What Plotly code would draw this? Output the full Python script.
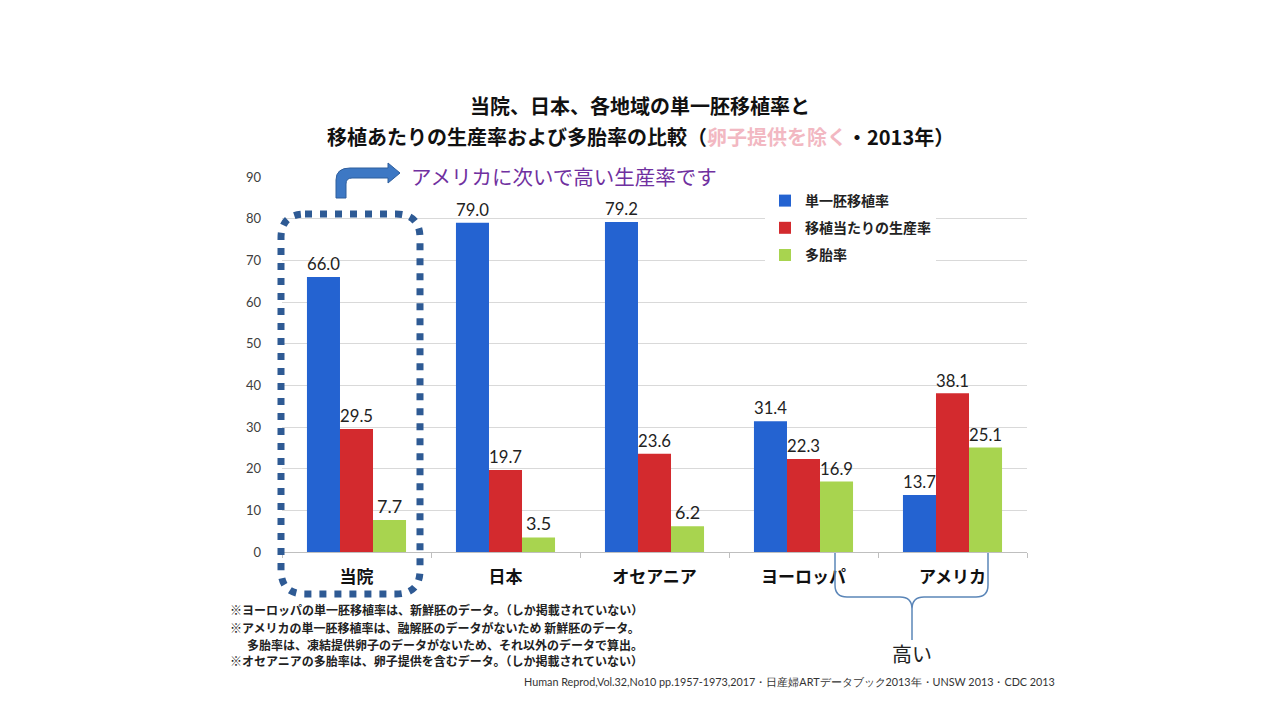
import plotly.graph_objects as go

categories = ["当院", "日本", "オセアニア", "ヨーロッパ", "アメリカ"]
set_rate = [66.0, 79.0, 79.2, 31.4, 13.7]
live_birth = [29.5, 19.7, 23.6, 22.3, 38.1]
multiple = [7.7, 3.5, 6.2, 16.9, 25.1]
series_names = ["単一胚移植率", "移植当たりの生産率", "多胎率"]
y_ticks = [0, 10, 20, 30, 40, 50, 60, 70, 80, 90]

colors = ["#2463D1", "#D32A2E", "#A8D44F"]

# page has an 8px body margin; figure is sized to fit inside the window
OFF = 8
FW, FH = 1280 - 2 * OFF, 720 - 2 * OFF
# plot area in page pixels
L, R, T, B = 282, 1027, 177, 552


def X(px):
    return (px - L) / (R - L)


def Y(py):
    return (B - py) / (B - T)


JP = "Noto Sans CJK JP"
NUM = "Lato"

fig = go.Figure()
for name, vals, col in zip(series_names, [set_rate, live_birth, multiple], colors):
    fig.add_trace(go.Bar(
        x=categories, y=vals, name=name, marker=dict(color=col, line=dict(width=0)),
        texttemplate="%{y:.1f}", textposition="outside",
        textfont=dict(family=NUM, size=18, color="#222222"),
        cliponaxis=False, legendgroup=name,
    ))

fig.update_layout(
    width=FW, height=FH,
    margin=dict(l=L - OFF, r=(FW + OFF) - R, t=T - OFF, b=(FH + OFF) - B),
    paper_bgcolor="white", plot_bgcolor="white",
    barmode="group", bargap=0.335, bargroupgap=0,
    showlegend=True,
    legend=dict(
        x=X(765), y=Y(185), xanchor="left", yanchor="top",
        bgcolor="white", borderwidth=0,
        font=dict(family=JP, size=14, color="#222222", weight="bold"),
        traceorder="grouped", tracegroupgap=6, itemwidth=30,
    ),
    font=dict(family=JP),
)

fig.update_yaxes(
    range=[0, 90], tickvals=y_ticks, showgrid=True, gridcolor="#D9D9D9", gridwidth=1,
    zeroline=False, showline=False, ticks="",
    tickfont=dict(family=NUM, size=13, color="#404040"), ticklabelstandoff=20,
)
fig.update_xaxes(
    showline=True, linecolor="#BFBFBF", linewidth=1,
    ticks="outside", tickson="boundaries", ticklen=5, tickcolor="#BFBFBF",
    tickfont=dict(family=JP, size=17, color="#111111", weight="bold"),
    ticklabelstandoff=10,
)

shapes = []
# dotted rounded box around 当院
x0, x1, t, b, r = 281, 420, 214, 594, 24
pts = (f"M {X(x0 + r)},{Y(t)} L {X(x1 - r)},{Y(t)} Q {X(x1)},{Y(t)} {X(x1)},{Y(t + r)} "
       f"L {X(x1)},{Y(b - r)} Q {X(x1)},{Y(b)} {X(x1 - r)},{Y(b)} "
       f"L {X(x0 + r)},{Y(b)} Q {X(x0)},{Y(b)} {X(x0)},{Y(b - r)} "
       f"L {X(x0)},{Y(t + r)} Q {X(x0)},{Y(t)} {X(x0 + r)},{Y(t)} Z")
shapes.append(dict(type="path", xref="paper", yref="paper", path=pts,
                   line=dict(color="#2E5A94", width=7, dash="7px,8px")))

# bent arrow
arrow = (f"M {X(336)},{Y(198)} L {X(336)},{Y(180)} Q {X(336)},{Y(168)} {X(350)},{Y(168)} "
         f"L {X(388)},{Y(168)} L {X(388)},{Y(163)} L {X(400)},{Y(173)} L {X(388)},{Y(183)} "
         f"L {X(388)},{Y(178)} L {X(352)},{Y(178)} Q {X(346)},{Y(178)} {X(346)},{Y(184)} "
         f"L {X(346)},{Y(198)} Z")
shapes.append(dict(type="path", xref="paper", yref="paper", path=arrow,
                   fillcolor="#3D78C4", line=dict(color="#2F5E9C", width=1)))

# curly bracket below Europe/America
brace = (f"M {X(835)},{Y(553)} L {X(835)},{Y(585)} Q {X(835)},{Y(597)} {X(847)},{Y(597)} "
         f"L {X(900)},{Y(597)} Q {X(912)},{Y(597)} {X(912)},{Y(609)} L {X(912)},{Y(640)} "
         f"M {X(912)},{Y(609)} Q {X(912)},{Y(597)} {X(924)},{Y(597)} "
         f"L {X(976)},{Y(597)} Q {X(988)},{Y(597)} {X(988)},{Y(585)} L {X(988)},{Y(553)}")
shapes.append(dict(type="path", xref="paper", yref="paper", path=brace,
                   line=dict(color="#5B86B8", width=1.5)))
fig.update_layout(shapes=shapes)


def note(px, py, text, size, color, xanchor="center", weight="normal", family=JP):
    return dict(x=X(px), y=Y(py), xref="paper", yref="paper", showarrow=False,
                xanchor=xanchor, yanchor="middle", text=text,
                font=dict(family=family, size=size, color=color, weight=weight))


ann = []
ann.append(note(640, 105, "当院、日本、各地域の単一胚移植率と", 20, "#111111", weight="bold"))
ann.append(note(640, 136,
                "移植あたりの生産率および多胎率の比較（<span style='color:#F2B8C2'>卵子提供を除く</span>・2013年）",
                20, "#111111", weight="bold"))
ann.append(note(409, 176, "アメリカに次いで高い生産率です", 20.5, "#7030A0", xanchor="left"))
ann.append(note(912, 653, "高い", 20, "#222222"))

notes = [
    (228, 609, "※ヨーロッパの単一胚移植率は、新鮮胚のデータ。（しか掲載されていない）"),
    (228, 627, "※アメリカの単一胚移植率は、融解胚のデータがないため 新鮮胚のデータ。"),
    (245, 644, "多胎率は、凍結提供卵子のデータがないため、それ以外のデータで算出。"),
    (228, 660, "※オセアニアの多胎率は、卵子提供を含むデータ。（しか掲載されていない）"),
]
for nx, ny, txt in notes:
    ann.append(note(nx, ny, txt, 12, "#222222", xanchor="left", weight="bold"))

ann.append(note(1057, 681,
                "Human Reprod,Vol.32,No10 pp.1957-1973,2017・日産婦ARTデータブック2013年・UNSW 2013・CDC 2013",
                10.8, "#333333", xanchor="right", family=NUM))
fig.update_layout(annotations=ann)

fig.write_html("out.html")
